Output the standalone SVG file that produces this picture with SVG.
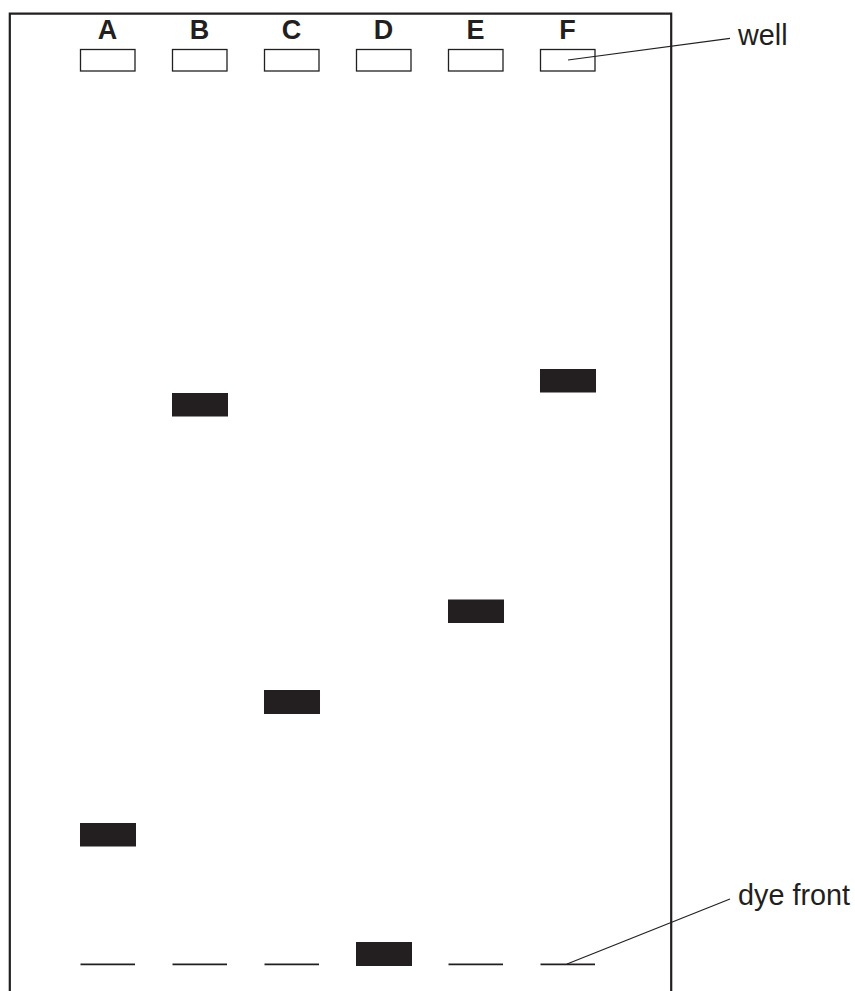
<svg xmlns="http://www.w3.org/2000/svg" width="855" height="991" viewBox="0 0 855 991">
<style>
.frame{fill:none;stroke:#231f20;stroke-width:2.2}
.well{fill:#fff;stroke:#231f20;stroke-width:1.3}
.band{fill:#231f20}
.dye{stroke:#231f20;stroke-width:1.7}
.lead{stroke:#231f20;stroke-width:1.2;fill:none}
.lane{font-family:"Liberation Sans",Arial,sans-serif;font-weight:bold;font-size:27px;fill:#231f20;text-anchor:middle}
.lbl{font-family:"Liberation Sans",Arial,sans-serif;font-size:28.8px;fill:#231f20}
</style>
<rect width="855" height="991" fill="#fff"/>
<g id="gel">
<path class="frame" d="M9.8,991 V13.6 H671.2 V991"/>
</g>
<g id="lanes">
<g id="lane-A"><text class="lane" x="107.5" y="39">A</text><rect class="well" x="80.5" y="49.5" width="54.5" height="21.5"/><rect class="band" x="80" y="823" width="56" height="23.5"/><line class="dye" x1="80.5" y1="964.3" x2="135" y2="964.3"/></g>
<g id="lane-B"><text class="lane" x="199.5" y="39">B</text><rect class="well" x="172.5" y="49.5" width="54.5" height="21.5"/><rect class="band" x="172" y="393" width="56" height="23.5"/><line class="dye" x1="172.5" y1="964.3" x2="227" y2="964.3"/></g>
<g id="lane-C"><text class="lane" x="291.5" y="39">C</text><rect class="well" x="264.5" y="49.5" width="54.5" height="21.5"/><rect class="band" x="264" y="690" width="56" height="24"/><line class="dye" x1="264.5" y1="964.3" x2="319" y2="964.3"/></g>
<g id="lane-D"><text class="lane" x="383.5" y="39">D</text><rect class="well" x="356.5" y="49.5" width="54.5" height="21.5"/><rect class="band" x="356" y="942" width="56" height="24"/></g>
<g id="lane-E"><text class="lane" x="475.5" y="39">E</text><rect class="well" x="448.5" y="49.5" width="54.5" height="21.5"/><rect class="band" x="448" y="599.5" width="56" height="23.5"/><line class="dye" x1="448.5" y1="964.3" x2="503" y2="964.3"/></g>
<g id="lane-F"><text class="lane" x="567.5" y="39">F</text><rect class="well" x="540.5" y="49.5" width="54.5" height="21.5"/><rect class="band" x="540" y="369" width="56" height="23.5"/><line class="dye" x1="540.5" y1="964.3" x2="595" y2="964.3"/></g>
</g>
<g id="connectors">
<line class="lead" x1="568" y1="60" x2="730" y2="38.3"/>
<line class="lead" x1="567" y1="964" x2="730" y2="899"/>
</g>
<g id="labels">
<text id="label-well" class="lbl" x="738" y="44.5">well</text>
<text id="label-dye" class="lbl" x="738" y="904.5">dye front</text>
</g>
</svg>
